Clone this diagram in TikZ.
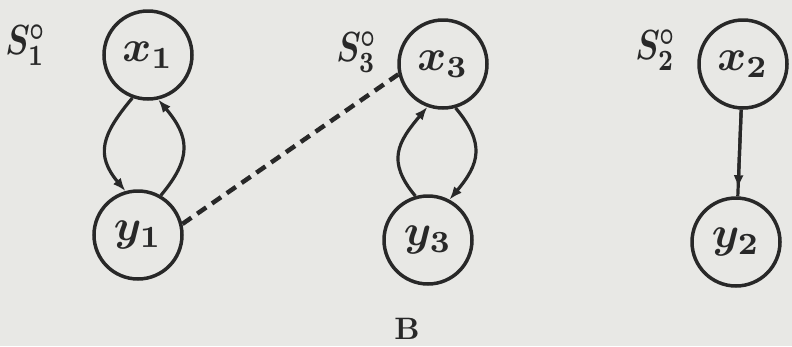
\documentclass[tikz,border=0pt]{standalone}
\usepackage{graphicx}
\usepackage{bm}
\usetikzlibrary{arrows.meta}
\definecolor{paper}{RGB}{232,232,229}
\definecolor{ink}{RGB}{40,40,40}
\newcommand{\bigmath}[3]{\scalebox{#1}[#2]{$\bm{#3}$}}
\begin{document}
\begin{tikzpicture}[x=1pt,y=-1pt,
  vertex/.style={circle,draw=ink,line width=3.5pt,minimum size=88pt,inner sep=0pt,text=ink},
  arc/.style={draw=ink,line width=3.2pt,looseness=1.3,-{Latex[length=13pt,width=10pt]}},
  setlabel/.style={text=ink,inner sep=0pt},
  link/.style={draw=ink,line width=4.5pt,dash pattern=on 11pt off 7pt}]
\fill[paper] (0,0) rectangle (792,346);
\useasboundingbox (0,0) rectangle (792,346);
% nodes
\node[vertex] (x1) at (148,55) {\bigmath{4.4}{4.4}{x_1}};
\node[vertex] (y1) at (138,235) {\bigmath{4.4}{4.4}{y_1}};
\node[vertex] (x3) at (443,64) {\bigmath{4.4}{4.4}{x_3}};
\node[vertex] (y3) at (428,240) {\bigmath{4.4}{4.4}{y_3}};
\node[vertex] (x2) at (743,64) {\bigmath{4.4}{4.4}{x_2}};
\node[vertex] (y2) at (736,242) {\bigmath{4.4}{4.4}{y_2}};
% labels
\node[setlabel] (s1) at (26,45) {\bigmath{3.3}{4.2}{S_1^{\circ}}};
\node[setlabel] (s3) at (357,52) {\bigmath{3.3}{4.2}{S_3^{\circ}}};
\node[setlabel] (s2) at (656,50) {\bigmath{3.3}{4.2}{S_2^{\circ}}};
\node[text=ink,inner sep=0pt] (cap) at (407,329) {\scalebox{3.1}{\bfseries B}};
% S1 loop
\draw[arc] (x1.250) to[out=230,in=130] (y1.106);
\draw[arc] (y1.60) to[out=50,in=310] (x1.283);
% S3 loop
\draw[arc] (y3.106) to[out=130,in=230] (x3.250);
\draw[arc] (x3.286) to[out=310,in=50] (y3.62);
% S2 edge
\draw[draw=ink,line width=3.2pt] (x2) -- (y2);
\draw[arc,shorten >=8pt] (x2) -- (y2);
% dashed link
\draw[link] (y1.14) -- (x3.193);
\end{tikzpicture}
\end{document}
